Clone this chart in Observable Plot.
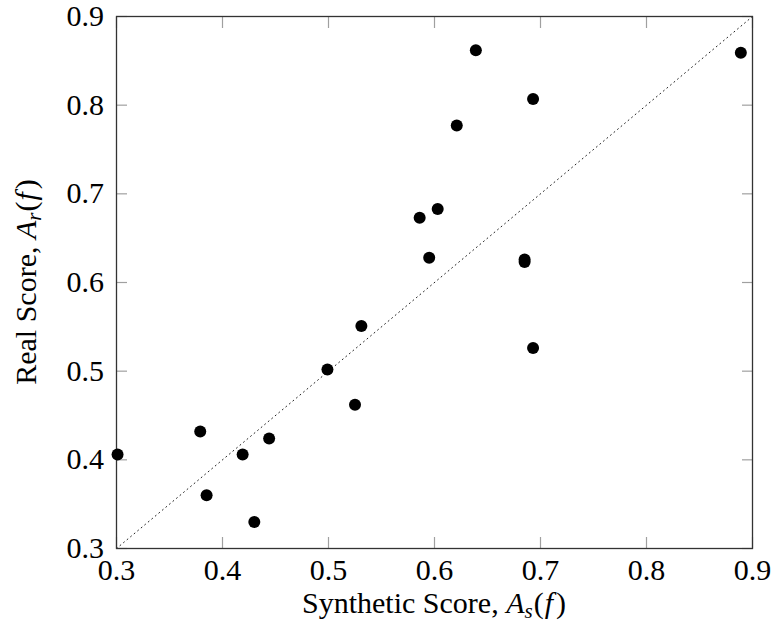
<!DOCTYPE html>
<html>
<head>
<meta charset="utf-8">
<script src="https://cdn.jsdelivr.net/npm/d3@7"></script>
<script src="https://cdn.jsdelivr.net/npm/@observablehq/plot@0.6"></script>
<style>
  html, body { margin: 0; padding: 0; background: #fff; }
  #chart svg { display: block; }
</style>
</head>
<body>
<div id="chart"></div>
<script>
// Synthetic score A_s(f) and real score A_r(f) for each feature
const synthetic = [0.301, 0.379, 0.385, 0.419, 0.444, 0.430, 0.499, 0.525, 0.531,
                   0.586, 0.595, 0.603, 0.621, 0.639, 0.685, 0.685, 0.693, 0.693, 0.889];
const real      = [0.406, 0.432, 0.360, 0.406, 0.424, 0.330, 0.502, 0.462, 0.551,
                   0.673, 0.628, 0.683, 0.777, 0.862, 0.626, 0.623, 0.807, 0.526, 0.859];
const tickValues = [0.3, 0.4, 0.5, 0.6, 0.7, 0.8, 0.9];
const tickLabels = ["0.3", "0.4", "0.5", "0.6", "0.7", "0.8", "0.9"];
const diagonal = [0.3, 0.9];
const xTitle = {name: "Synthetic Score,", sub: "s"};
const yTitle = {name: "Real Score,", sub: "r"};

const points = synthetic.map((s, i) => ({s, r: real[i]}));
const ticks = tickValues.map((v, i) => ({v, label: tickLabels[i]}));
const font = "Liberation Serif";

const plot = Plot.plot({
  width: 774, height: 636,
  marginLeft: 116, marginRight: 22, marginTop: 16, marginBottom: 88,
  style: {fontFamily: font, fontSize: "30px", background: "#fff", color: "#000"},
  x: {domain: [0.3, 0.9]},
  y: {domain: [0.3, 0.9]},
  marks: [
    Plot.line(diagonal, {x: d => d, y: d => d, stroke: "#222", strokeWidth: 1, strokeDasharray: "1 3.6"}),
    Plot.axisX({ticks: tickValues, tickSize: -11, stroke: "#a0a0a0", strokeWidth: 1.2, text: null, label: null}),
    Plot.axisX({anchor: "top", ticks: tickValues, tickSize: -11, stroke: "#a0a0a0", strokeWidth: 1.2, text: null, label: null}),
    Plot.axisY({ticks: tickValues, tickSize: -11, stroke: "#a0a0a0", strokeWidth: 1.2, text: null, label: null}),
    Plot.axisY({anchor: "right", ticks: tickValues, tickSize: -11, stroke: "#a0a0a0", strokeWidth: 1.2, text: null, label: null}),
    // tick labels drawn as text marks positioned by the scales
    Plot.text(ticks, {x: "v", text: "label", frameAnchor: "bottom", lineAnchor: "top", dy: 10,
                      fontSize: 30, fontFamily: font, fill: "#000"}),
    Plot.text(ticks, {y: "v", text: "label", frameAnchor: "left", textAnchor: "end", dx: -12.5,
                      fontSize: 30, fontFamily: font, fill: "#000"}),
    Plot.frame({stroke: "#333", strokeWidth: 1.3}),
    Plot.dot(points, {x: "s", y: "r", r: 6, fill: "#000", stroke: "none"})
  ]
});
document.getElementById("chart").appendChild(plot);

// Axis titles with math italics, centred on the plot's own scale ranges
const svg = d3.select(plot);
const xr = plot.scale("x").range;
const yr = plot.scale("y").range;
const xc = (xr[0] + xr[1]) / 2;
const yc = (yr[0] + yr[1]) / 2;

function addLabel(g, title) {
  const t = g.append("text")
    .attr("text-anchor", "middle")
    .attr("font-family", font)
    .attr("font-size", 30)
    .attr("fill", "#000");
  t.append("tspan").text(title.name + " ");
  t.append("tspan").attr("font-style", "italic").text("A");
  t.append("tspan").attr("font-style", "italic").attr("font-size", 21).attr("dy", 5).text(title.sub);
  t.append("tspan").attr("dy", -5).attr("dx", 1).text("(");
  t.append("tspan").attr("font-style", "italic").attr("dx", 1).text("f");
  t.append("tspan").attr("dx", 3).text(")");
}

addLabel(svg.append("g").attr("transform", `translate(${xc},613)`), xTitle);
addLabel(svg.append("g").attr("transform", `translate(36,${yc}) rotate(-90)`), yTitle);
</script>
</body>
</html>
